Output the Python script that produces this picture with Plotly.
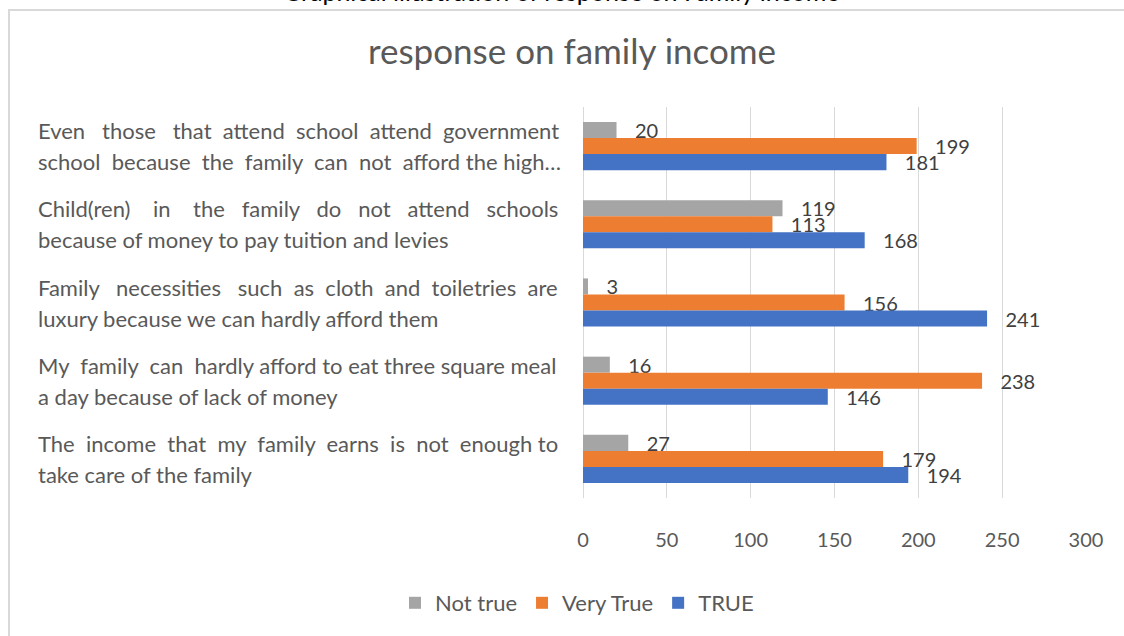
import plotly.graph_objects as go

# Survey statements (top to bottom), each split into its two display lines
statements = [
    "Even those that attend school attend government school because the family can not afford the high…",
    "Child(ren) in the family do not attend schools because of money to pay tuition and levies",
    "Family necessities such as cloth and toiletries are luxury because we can hardly afford them",
    "My family can hardly afford to eat three square meal a day because of lack of money",
    "The income that my family earns is not enough to take care of the family",
]
statement_lines = [
    ("Even those that attend school attend government", "school because the family can not afford the high…"),
    ("Child(ren) in the family do not attend schools", "because of money to pay tuition and levies"),
    ("Family necessities such as cloth and toiletries are", "luxury because we can hardly afford them"),
    ("My family can hardly afford to eat three square meal", "a day because of lack of money"),
    ("The income that my family earns is not enough to", "take care of the family"),
]

not_true = [20, 119, 3, 16, 27]
very_true = [199, 113, 156, 238, 179]
true_vals = [181, 168, 241, 146, 194]

x_ticks = [0, 50, 100, 150, 200, 250, 300]

series = [
    ("Not true", not_true, "#A5A5A5"),
    ("Very True", very_true, "#ED7D31"),
    ("TRUE", true_vals, "#4472C4"),
]

FONT = "Lato, 'Open Sans', sans-serif"
GREY_TEXT = "#595959"
NBSP = "\u00a0"

W, H = 1124, 636
L, R, T, B = 583, 38, 107, 138
PW, PH = W - L - R, H - T - B

# Extra non-breaking spaces spread across word gaps so the wrapped
# statement lines fill the label column (last line of a paragraph stays ragged)
justify_pad = [(8, 6), (16, 0), (9, 0), (3, 0), (8, 0)]


def px_x(p):
    return (p - L) / PW


def px_y(p):
    return (H - B - p) / PH


def justify(line, extra):
    words = line.split(" ")
    gaps = len(words) - 1
    if extra <= 0 or gaps <= 0:
        return line
    out = words[0]
    for i, w in enumerate(words[1:]):
        n = extra // gaps + (1 if i < extra % gaps else 0)
        out += " " + NBSP * n + w
    return out


fig = go.Figure()
for name, vals, color in series:
    fig.add_trace(go.Bar(
        y=statements,
        x=vals,
        name=name,
        orientation="h",
        marker=dict(color=color, line=dict(width=0)),
        text=vals,
        texttemplate=NBSP * 3 + "%{x}",
        textposition="outside",
        textfont=dict(family=FONT, size=20, color="#404040"),
        constraintext="none",
        cliponaxis=False,
        hoverinfo="x+name",
    ))

# Left-aligned two-line statement labels
for stmt, (l1, l2), (p1, p2) in zip(statements, statement_lines, justify_pad):
    for line, pad, shift in ((l1, p1, 15.5), (l2, p2, -15.5)):
        fig.add_annotation(
            x=px_x(36), xref="paper", xanchor="left",
            y=stmt, yref="y", yanchor="middle", yshift=shift,
            text=justify(line, pad), showarrow=False, align="left",
            font=dict(family=FONT, size=22, color=GREY_TEXT),
        )

# Heading of the document section above the chart frame
fig.add_annotation(
    x=px_x(561), xref="paper", xanchor="center",
    y=px_y(-9), yref="paper", yanchor="middle",
    text="Graphical illustration of response on Family income",
    showarrow=False,
    font=dict(family=FONT, size=25, color="#000000"),
)

# Chart frame
fig.add_shape(
    type="rect", xref="paper", yref="paper",
    x0=px_x(9), x1=px_x(1140), y0=px_y(650), y1=px_y(10),
    line=dict(color="#D9D9D9", width=2), fillcolor="rgba(0,0,0,0)",
    layer="above",
)

fig.update_layout(
    width=W, height=H,
    margin=dict(l=L, r=R, t=T, b=B, autoexpand=False),
    paper_bgcolor="white",
    plot_bgcolor="white",
    barmode="group",
    bargap=0.385,
    bargroupgap=0,
    title=dict(
        text="response on family income",
        xref="container", x=572 / W, xanchor="center",
        yref="container", y=1 - 52 / H, yanchor="middle",
        font=dict(family=FONT, size=35, color=GREY_TEXT),
    ),
    xaxis=dict(
        range=[0, 300],
        tickvals=x_ticks,
        ticktext=[str(v) for v in x_ticks],
        showgrid=True, gridcolor="#D9D9D9", gridwidth=1,
        zeroline=True, zerolinecolor="#D9D9D9", zerolinewidth=1,
        showline=False,
        ticks="", ticklabelstandoff=28,
        tickfont=dict(family=FONT, size=20, color=GREY_TEXT),
        fixedrange=True,
    ),
    yaxis=dict(
        autorange="reversed",
        showticklabels=False,
        showgrid=False, showline=False, zeroline=False,
        ticks="",
        fixedrange=True,
    ),
    legend=dict(
        orientation="h",
        xref="container", x=577 / W, xanchor="center",
        yref="container", y=1 - 603 / H, yanchor="middle",
        font=dict(family=FONT, size=22, color=GREY_TEXT),
        itemwidth=30,
        traceorder="normal",
    ),
    showlegend=True,
)

fig.write_html("out.html")
